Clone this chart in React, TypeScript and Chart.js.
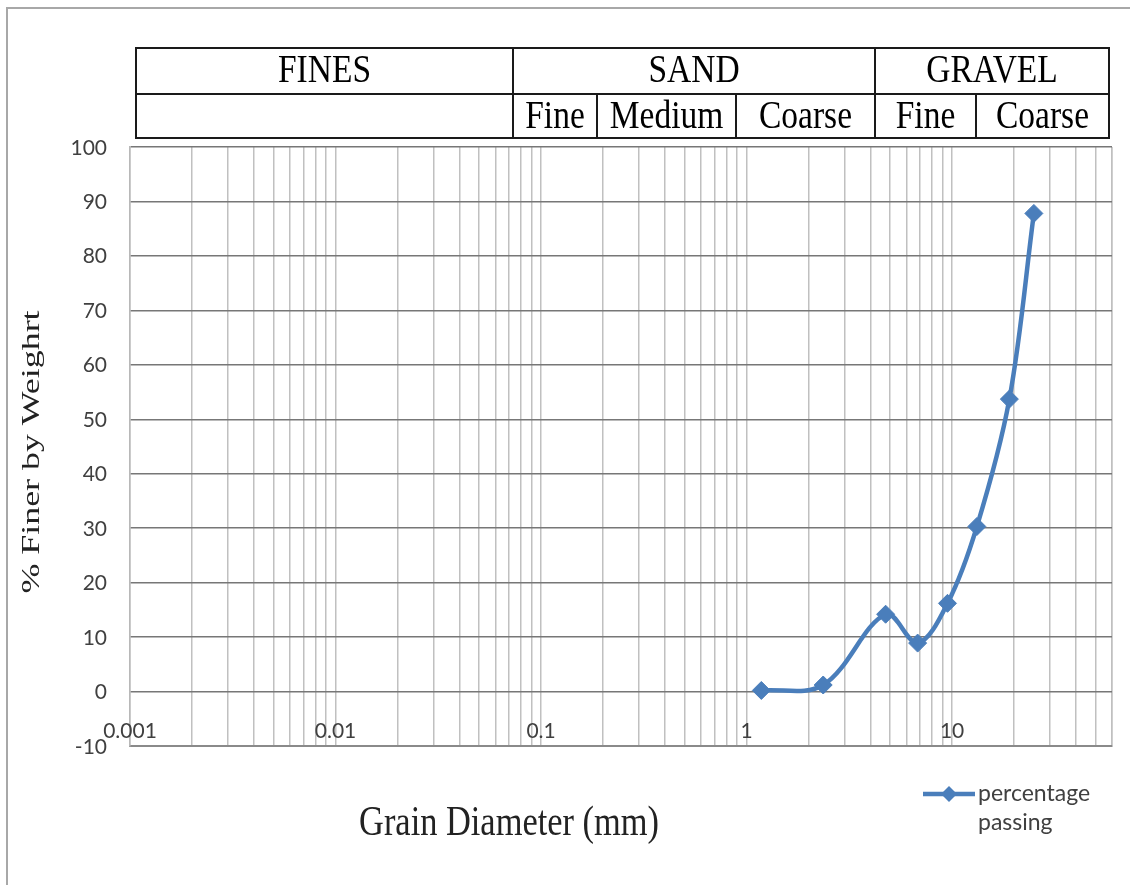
import React, { useEffect, useRef } from 'react';
import { Chart, registerables } from 'chart.js';

Chart.register(...registerables);

// ---- data ----
const GRAIN_SIZE_MM = [1.18, 2.36, 4.75, 6.8, 9.5, 13.2, 19, 25];
const PERCENT_PASSING = [0.2, 1.2, 14.2, 8.9, 16.2, 30.3, 53.7, 87.8];
const SERIES_LABEL = 'percentage passing';
const X_TICK_VALUES = [0.001, 0.01, 0.1, 1, 10];
const X_TICK_LABELS = ['0.001', '0.01', '0.1', '1', '10'];
const X_GRID_MULTIPLIERS = [1, 2, 3, 4, 5, 6, 7, 8, 9];
const X_MIN = 0.001;
const X_MAX = 60;
const Y_MIN = -10;
const Y_MAX = 100;
const Y_STEP = 10;
const X_TITLE = 'Grain Diameter (mm)';
const Y_TITLE = '% Finer by Weighrt';
const SOIL_GROUPS = ['FINES', 'SAND', 'GRAVEL'];
const SOIL_SUBGROUPS = ['', 'Fine', 'Medium', 'Coarse', 'Fine', 'Coarse'];

// ---- layout / style ----
const W = 1130;
const H = 885;
const BLUE = '#4a7ebb';
const TABLE_TOP = 48;
const TABLE_MID = 94;
const TABLE_BOTTOM = 138;
const GROUP_EDGES = [136, 513, 875, 1109];
const SUB_EDGES = [136, 513, 597, 736, 875, 976, 1109];
const SERIF = '"Liberation Serif", "DejaVu Serif", serif';
const SANS = 'Lato, "Open Sans", sans-serif';

function drawText(
  ctx: CanvasRenderingContext2D,
  text: string,
  x: number,
  y: number,
  font: string,
  color: string,
  align: CanvasTextAlign,
  sx = 1,
  sy = 1,
  rot = 0
) {
  ctx.save();
  ctx.translate(x, y);
  if (rot) ctx.rotate(rot);
  ctx.scale(sx, sy);
  ctx.font = font;
  ctx.fillStyle = color;
  ctx.textAlign = align;
  ctx.textBaseline = 'alphabetic';
  ctx.fillText(text, 0, 0);
  ctx.restore();
}

const decorPlugin = {
  id: 'decor',
  beforeDraw(chart: any) {
    const ctx = chart.ctx as CanvasRenderingContext2D;
    ctx.save();
    ctx.fillStyle = '#ffffff';
    ctx.fillRect(0, 0, chart.width, chart.height);
    ctx.restore();
  },
  afterDraw(chart: any) {
    const ctx = chart.ctx as CanvasRenderingContext2D;
    const xs = chart.scales.x;
    const ys = chart.scales.y;
    const area = chart.chartArea;

    // page frame
    ctx.save();
    ctx.strokeStyle = '#a8a8a8';
    ctx.lineWidth = 2;
    ctx.beginPath();
    ctx.moveTo(7, H);
    ctx.lineTo(7, 8);
    ctx.lineTo(W, 8);
    ctx.stroke();
    ctx.restore();

    // classification table
    ctx.save();
    ctx.strokeStyle = '#1a1a1a';
    ctx.lineWidth = 2;
    ctx.strokeRect(GROUP_EDGES[0], TABLE_TOP, GROUP_EDGES[GROUP_EDGES.length - 1] - GROUP_EDGES[0], TABLE_BOTTOM - TABLE_TOP);
    ctx.beginPath();
    ctx.moveTo(GROUP_EDGES[0], TABLE_MID);
    ctx.lineTo(GROUP_EDGES[GROUP_EDGES.length - 1], TABLE_MID);
    for (let i = 1; i < GROUP_EDGES.length - 1; i++) {
      ctx.moveTo(GROUP_EDGES[i], TABLE_TOP);
      ctx.lineTo(GROUP_EDGES[i], TABLE_MID);
    }
    for (let i = 1; i < SUB_EDGES.length - 1; i++) {
      ctx.moveTo(SUB_EDGES[i], TABLE_MID);
      ctx.lineTo(SUB_EDGES[i], TABLE_BOTTOM);
    }
    ctx.stroke();
    ctx.restore();

    const tableFont = `33.5px ${SERIF}`;
    SOIL_GROUPS.forEach((g, i) => {
      const cx = (GROUP_EDGES[i] + GROUP_EDGES[i + 1]) / 2;
      drawText(ctx, g, cx, TABLE_TOP + 34, tableFont, '#000', 'center', 1, 1.18);
    });
    SOIL_SUBGROUPS.forEach((g, i) => {
      if (!g) return;
      const cx = (SUB_EDGES[i] + SUB_EDGES[i + 1]) / 2;
      drawText(ctx, g, cx, TABLE_MID + 34, tableFont, '#000', 'center', 1, 1.18);
    });

    // y tick labels
    const tickFont = `21px ${SANS}`;
    for (let v = Y_MIN; v <= Y_MAX; v += Y_STEP) {
      const py = ys.getPixelForValue(v);
      drawText(ctx, String(v), area.left - 23, py + 7.5, tickFont, '#404040', 'right');
    }
    // x tick labels (drawn inside the plot, just above the bottom)
    X_TICK_VALUES.forEach((v, i) => {
      const px = xs.getPixelForValue(v);
      drawText(ctx, X_TICK_LABELS[i], px, area.bottom - 8, tickFont, '#404040', 'center');
    });

    // axis titles
    drawText(ctx, X_TITLE, (area.left + area.right) / 2 - 112, 835, `34.4px ${SERIF}`, '#222', 'center', 1, 1.25);
    drawText(ctx, Y_TITLE, 39, 452, `26px ${SERIF}`, '#222', 'center', 1.38, 1, -Math.PI / 2);

    // legend
    const ds = chart.data.datasets[0];
    ctx.save();
    ctx.strokeStyle = BLUE;
    ctx.lineWidth = 4.5;
    ctx.beginPath();
    ctx.moveTo(923, 794);
    ctx.lineTo(975, 794);
    ctx.stroke();
    ctx.fillStyle = BLUE;
    ctx.beginPath();
    ctx.moveTo(949 - 8, 794);
    ctx.lineTo(949, 794 - 8);
    ctx.lineTo(949 + 8, 794);
    ctx.lineTo(949, 794 + 8);
    ctx.closePath();
    ctx.fill();
    ctx.restore();
    const parts = String(ds.label).split(' ');
    parts.forEach((p, i) => {
      drawText(ctx, p, 978, 801 + i * 29, `23px ${SANS}`, '#404040', 'left');
    });
  },
};

export default function App() {
  const ref = useRef<HTMLCanvasElement>(null);
  useEffect(() => {
    if (!ref.current) return;
    const chart = new Chart(ref.current, {
      type: 'line',
      data: {
        datasets: [
          {
            label: SERIES_LABEL,
            data: GRAIN_SIZE_MM.map((x, i) => ({ x, y: PERCENT_PASSING[i] })),
            borderColor: BLUE,
            backgroundColor: BLUE,
            borderWidth: 4.5,
            pointStyle: 'rectRot',
            pointRadius: 9,
            pointBorderWidth: 1,
            pointBackgroundColor: BLUE,
            pointBorderColor: BLUE,
            tension: 0.35,
            fill: false,
            clip: false as any,
          },
        ],
      },
      options: {
        animation: false,
        responsive: false,
        devicePixelRatio: 1,
        layout: { padding: { left: 130, top: 147, right: 18, bottom: 139 } },
        plugins: { legend: { display: false }, tooltip: { enabled: false } },
        scales: {
          x: {
            type: 'logarithmic',
            min: X_MIN,
            max: X_MAX,
            ticks: { display: false },
            grid: { color: '#c0c0c0', lineWidth: 1.5, drawTicks: false },
            border: { display: true, color: '#8a8a8a', width: 2 },
            afterBuildTicks: (axis: any) => {
              const ticks: { value: number }[] = [];
              X_TICK_VALUES.forEach((d) => {
                X_GRID_MULTIPLIERS.forEach((m) => {
                  const v = d * m;
                  if (v <= X_MAX) ticks.push({ value: v });
                });
              });
              ticks.push({ value: X_MAX });
              axis.ticks = ticks;
            },
          },
          y: {
            type: 'linear',
            min: Y_MIN,
            max: Y_MAX,
            ticks: { display: false, stepSize: Y_STEP },
            grid: { color: '#777777', lineWidth: 1.5, drawTicks: false },
            border: { display: true, color: '#b8b8b8', width: 1.5 },
          },
        },
      },
      plugins: [decorPlugin],
    } as any);
    return () => chart.destroy();
  }, []);
  return (
    <div style={{ position: 'absolute', left: 0, top: 0, width: W, height: H, background: '#fff' }}>
      <canvas ref={ref} width={W} height={H} style={{ width: W, height: H, display: 'block' }} />
    </div>
  );
}
